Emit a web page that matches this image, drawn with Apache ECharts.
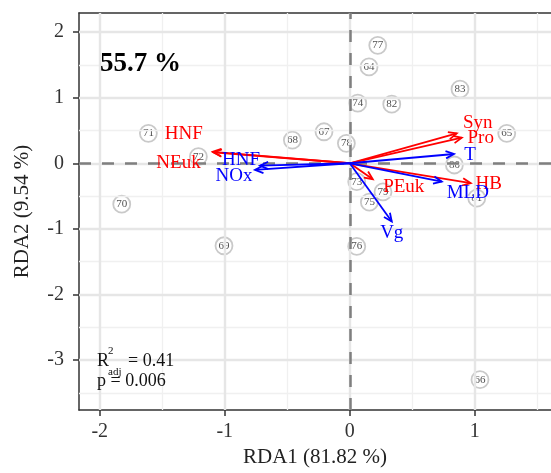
<!DOCTYPE html>
<html>
<head>
<meta charset="utf-8">
<script src="https://cdn.jsdelivr.net/npm/echarts@6/dist/echarts.min.js"></script>
<style>html,body{margin:0;padding:0;background:#fff}#chart{width:551px;height:473px}</style>
</head>
<body>
<div id="chart"></div>
<script>
// site scores
var siteNames = ['77', '64', '83', '74', '82', '65', '67', '68', '78', '71', '72', '80', '73', '79', '75', '81', '70', '69', '76', '66'];
var siteX = [0.224, 0.154, 0.882, 0.064, 0.336, 1.256, -0.206, -0.459, -0.027, -1.611, -1.211, 0.837, 0.056, 0.266, 0.157, 1.016, -1.824, -1.006, 0.056, 1.042];
var siteY = [1.798, 1.468, 1.129, 0.916, 0.901, 0.456, 0.480, 0.354, 0.304, 0.456, 0.100, -0.026, -0.280, -0.436, -0.593, -0.532, -0.623, -1.257, -1.267, -3.298];

// response arrows (red)
var speciesNames = ['HNF', 'NEuk', 'Syn', 'Pro', 'PEuk', 'HB'];
var speciesX = [-1.095, -1.09, 0.856, 0.896, 0.184, 0.968];
var speciesY = [0.175, 0.165, 0.456, 0.389, -0.243, -0.304];

// explanatory arrows (blue)
var envNames = ['HNF', 'NOx', 'T', 'MLD', 'Vg'];
var envX = [-0.718, -0.758, 0.834, 0.736, 0.336];
var envY = [-0.036, -0.102, 0.141, -0.280, -0.888];

var xTicks = [-2, -1, 0, 1];
var yTicks = [-3, -2, -1, 0, 1, 2];
var xMinor = [-1.5, -0.5, 0.5, 1.5];
var yMinor = [-3.5, -2.5, -1.5, -0.5, 0.5, 1.5];

// label placement (pixels from arrow tip)
var speciesNudge = [[-29, -18], [-35, 11], [21, -10], [19, 0], [31, 8], [18, 1]];
var envNudge = [[-19, -6], [-21, 6], [16, 1], [26, 11], [0, 11]];

var serif = '"Liberation Serif", "DejaVu Serif", serif';

var chartDom = document.getElementById('chart');
var myChart = echarts.init(chartDom);
var option;

function gridLines() {
    var out = [];
    xMinor.forEach(function (v) { out.push({ xAxis: v, lineStyle: { color: '#f0f0f0', width: 1.3, type: 'solid' } }); });
    yMinor.forEach(function (v) { out.push({ yAxis: v, lineStyle: { color: '#f0f0f0', width: 1.3, type: 'solid' } }); });
    xTicks.forEach(function (v) { out.push({ xAxis: v, lineStyle: { color: '#e6e6e6', width: 2.4, type: 'solid' } }); });
    yTicks.forEach(function (v) { out.push({ yAxis: v, lineStyle: { color: '#e6e6e6', width: 2.4, type: 'solid' } }); });
    return out;
}

function arrowSeries(names, xs, ys, color, nudges) {
    return {
        type: 'custom',
        coordinateSystem: 'cartesian2d',
        z: 5,
        silent: true,
        data: xs.map(function (x, i) { return [x, ys[i], i]; }),
        renderItem: function (params, api) {
            var i = api.value(2);
            var o = api.coord([0, 0]);
            var t = api.coord([api.value(0), api.value(1)]);
            var a = Math.atan2(t[1] - o[1], t[0] - o[0]);
            var h = 9, s = 0.42;
            var p1 = [t[0] - h * Math.cos(a - s), t[1] - h * Math.sin(a - s)];
            var p2 = [t[0] - h * Math.cos(a + s), t[1] - h * Math.sin(a + s)];
            var n = nudges[i];
            return {
                type: 'group',
                children: [
                    { type: 'line', shape: { x1: o[0], y1: o[1], x2: t[0], y2: t[1] }, style: { stroke: color, lineWidth: 1.8 } },
                    { type: 'polyline', shape: { points: [p1, t, p2] }, style: { stroke: color, lineWidth: 1.8, fill: null } },
                    {
                        type: 'text', x: t[0] + n[0], y: t[1] + n[1],
                        style: { text: names[i], fill: color, font: '19px ' + serif, align: 'center', verticalAlign: 'middle' }
                    }
                ]
            };
        }
    };
}

option = {
    animation: false,
    grid: { left: 79, top: 13, right: 0, bottom: 62 },
    xAxis: [{
        type: 'value',
        min: -2.166,
        max: 1.61,
        name: 'RDA1 (81.82 %)',
        nameLocation: 'middle',
        nameGap: 37,
        nameTextStyle: { fontSize: 21, fontFamily: serif, color: '#222' },
        axisLine: { onZero: false, lineStyle: { color: '#333', width: 1.5 } },
        axisTick: { customValues: xTicks, length: 6, lineStyle: { color: '#333', width: 1.5 } },
        axisLabel: { customValues: xTicks, fontSize: 20, fontFamily: serif, color: '#333', margin: 12 },
        splitLine: { show: false }
    }, {
        type: 'value',
        position: 'top',
        min: -2.166,
        max: 1.61,
        axisLine: { onZero: false, lineStyle: { color: '#333', width: 1.5 } },
        axisTick: { show: false },
        axisLabel: { show: false },
        splitLine: { show: false }
    }],
    yAxis: {
        type: 'value',
        min: -3.76,
        max: 2.29,
        name: 'RDA2 (9.54 %)',
        nameLocation: 'middle',
        nameGap: 46,
        nameRotate: 90,
        nameTextStyle: { fontSize: 21, fontFamily: serif, color: '#222' },
        axisLine: { onZero: false, lineStyle: { color: '#333', width: 1.5 } },
        axisTick: { customValues: yTicks, length: 6, lineStyle: { color: '#333', width: 1.5 } },
        axisLabel: { customValues: yTicks, fontSize: 20, fontFamily: serif, color: '#333', margin: 15 },
        splitLine: { show: false }
    },
    graphic: [
        { type: 'text', z: 20, x: 100, y: 64, style: { text: '55.7 %', fill: '#000', font: 'bold 27px ' + serif, verticalAlign: 'middle' } },
        { type: 'text', z: 20, x: 97, y: 361, style: { text: 'R', fill: '#111', font: '18px ' + serif, verticalAlign: 'middle' } },
        { type: 'text', z: 20, x: 108, y: 351, style: { text: '2', fill: '#111', font: '11px ' + serif, verticalAlign: 'middle' } },
        { type: 'text', z: 20, x: 108, y: 372, style: { text: 'adj', fill: '#111', font: '11px ' + serif, verticalAlign: 'middle' } },
        { type: 'text', z: 20, x: 128, y: 361, style: { text: '= 0.41', fill: '#111', font: '18px ' + serif, verticalAlign: 'middle' } },
        { type: 'text', z: 20, x: 97, y: 381, style: { text: 'p = 0.006', fill: '#111', font: '18px ' + serif, verticalAlign: 'middle' } }
    ],
    series: [
        {
            type: 'scatter',
            z: 1,
            silent: true,
            symbolSize: 0,
            data: [[0, 0]],
            markLine: { silent: true, symbol: 'none', label: { show: false }, data: gridLines() }
        },
        {
            type: 'scatter',
            z: 2,
            silent: true,
            symbolSize: 0,
            data: [[0, 0]],
            markLine: {
                silent: true,
                symbol: 'none',
                label: { show: false },
                lineStyle: { color: '#7f7f7f', width: 2.5, type: [12, 11] },
                data: [{ xAxis: 0 }, { yAxis: 0 }]
            }
        },
        {
            type: 'scatter',
            z: 3,
            silent: true,
            symbol: 'circle',
            symbolSize: 17,
            data: siteX.map(function (x, i) { return [x, siteY[i], siteNames[i]]; }),
            itemStyle: { color: 'rgba(255,255,255,0.55)', borderColor: '#bbbbbb', borderWidth: 1.8 },
            label: {
                show: true,
                position: 'inside',
                formatter: function (p) { return p.value[2]; },
                fontSize: 11,
                fontFamily: serif,
                color: '#222'
            }
        },
        arrowSeries(speciesNames, speciesX, speciesY, '#ff0000', speciesNudge),
        arrowSeries(envNames, envX, envY, '#0000ff', envNudge)
    ]
};

option && myChart.setOption(option);
</script>
</body>
</html>
